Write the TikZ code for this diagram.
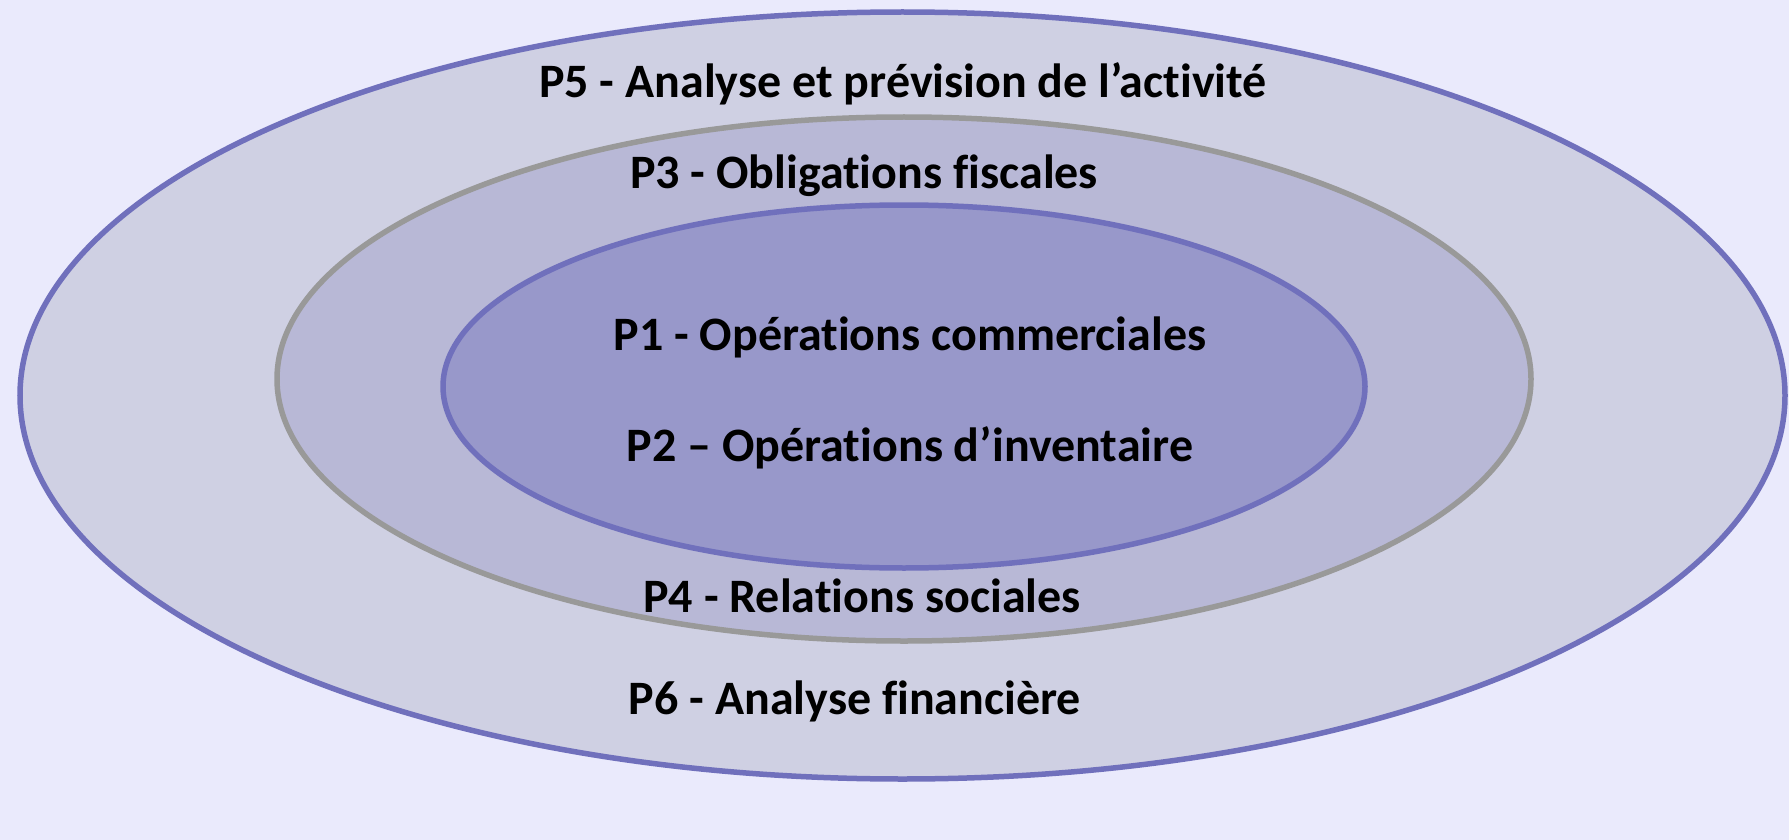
\documentclass[tikz,border=0pt]{standalone}
\usepackage{fontspec}
\setmainfont{Carlito}[Ligatures={NoCommon}]
\usetikzlibrary{shapes.geometric}
\definecolor{fond}{RGB}{234,234,252}
\definecolor{bleu}{RGB}{112,112,188}
\definecolor{gris}{RGB}{153,153,153}
\definecolor{zoneExt}{RGB}{207,208,227}
\definecolor{zoneMil}{RGB}{184,184,214}
\definecolor{zoneInt}{RGB}{152,152,202}

\begin{document}
\begin{tikzpicture}[
      x=1pt, y=-1pt,
      zone/.style ={ellipse, line width=5.5pt, inner sep=0pt},
      titre/.style ={anchor=base, font=\fontsize{48}{56}\selectfont\bfseries, text=black},
    ]
    \useasboundingbox [fill=fond] (0,0) rectangle (1789,840) ;
    \node [zone, draw=bleu, fill=zoneExt, minimum width=1765pt, minimum height=767pt] (ext) at (902.5,395.5) {} ;
    \node [zone, draw=gris, fill=zoneMil, minimum width=1254pt, minimum height=524pt] (mil) at (904,379) {} ;
    \node [zone, draw=bleu, fill=zoneInt, minimum width=922pt, minimum height=363pt] (int) at (904,386.5) {} ;

    \node [titre] (p5) at (903,98) {P5 - Analyse et prévision de l’activité} ;
    \node [titre] (p3) at (864,189) {P3 - Obligations fiscales} ;
    \node [titre] (p1) at (910,350) {P1 - Opérations commerciales} ;
    \node [titre] (p2) at (910,461) {P2 – Opérations d’inventaire} ;
    \node [titre] (p4) at (862,612) {P4 - Relations sociales} ;
    \node [titre] (p6) at (855,714) {P6 - Analyse financière} ;
  \end{tikzpicture}
\end{document}
